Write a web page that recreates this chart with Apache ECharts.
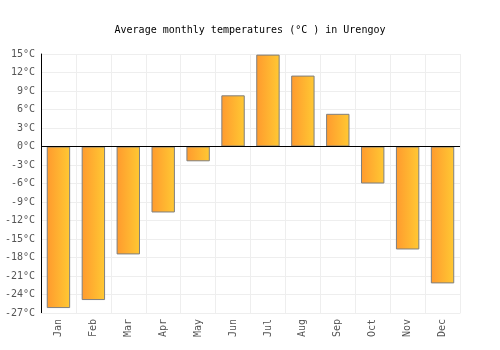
<!DOCTYPE html>
<html>
<head>
<meta charset="utf-8">
<script src="https://cdn.jsdelivr.net/npm/echarts@6/dist/echarts.min.js"></script>
<style>
  html, body { margin: 0; padding: 0; background: #fff; }
  #chart { width: 500px; height: 350px; }
</style>
</head>
<body>
<div id="chart"></div>
<script>
// data
const months = ['Jan', 'Feb', 'Mar', 'Apr', 'May', 'Jun', 'Jul', 'Aug', 'Sep', 'Oct', 'Nov', 'Dec']
const temps = [-26.2, -24.9, -17.5, -10.7, -2.4, 8.3, 14.9, 11.5, 5.3, -6.0, -16.7, -22.2]
const yMin = -27
const yMax = 15
const yStep = 3

const font = 'DejaVu Sans Mono'

const chart = echarts.init(document.getElementById('chart'))

chart.setOption({
  animation: false,
  title: {
    text: 'Average monthly temperatures (°C ) in Urengoy',
    left: 'center',
    top: 20,
    textStyle: { fontFamily: font, fontSize: 10, fontWeight: 'normal', color: '#000' }
  },
  grid: { left: 41, right: 40, top: 54, bottom: 37 },
  xAxis: {
    type: 'category',
    data: months,
    axisLine: { onZero: false, lineStyle: { color: '#eee' } },
    axisTick: { show: false },
    splitLine: { show: true, lineStyle: { color: '#eee' } },
    axisLabel: { rotate: 90, color: '#555', fontFamily: font, fontSize: 10, margin: 6 }
  },
  yAxis: {
    type: 'value',
    min: yMin,
    max: yMax,
    interval: yStep,
    axisLine: { show: true, lineStyle: { color: '#000' } },
    axisTick: { show: false },
    splitLine: { lineStyle: { color: '#eee' } },
    axisLabel: { formatter: '{value}°C', color: '#555', fontFamily: font, fontSize: 10, margin: 6 }
  },
  series: [
    {
      type: 'bar',
      data: temps,
      barWidth: '67%',
      itemStyle: {
        borderColor: '#7f7f7f',
        borderWidth: 1,
        color: new echarts.graphic.LinearGradient(0, 0, 1, 0, [
          { offset: 0, color: '#ff9a2e' },
          { offset: 1, color: '#ffc933' }
        ])
      },
      markLine: {
        silent: true,
        symbol: 'none',
        label: { show: false },
        lineStyle: { color: '#000', type: 'solid', width: 1 },
        data: [{ yAxis: 0 }]
      }
    }
  ]
})
</script>
</body>
</html>
